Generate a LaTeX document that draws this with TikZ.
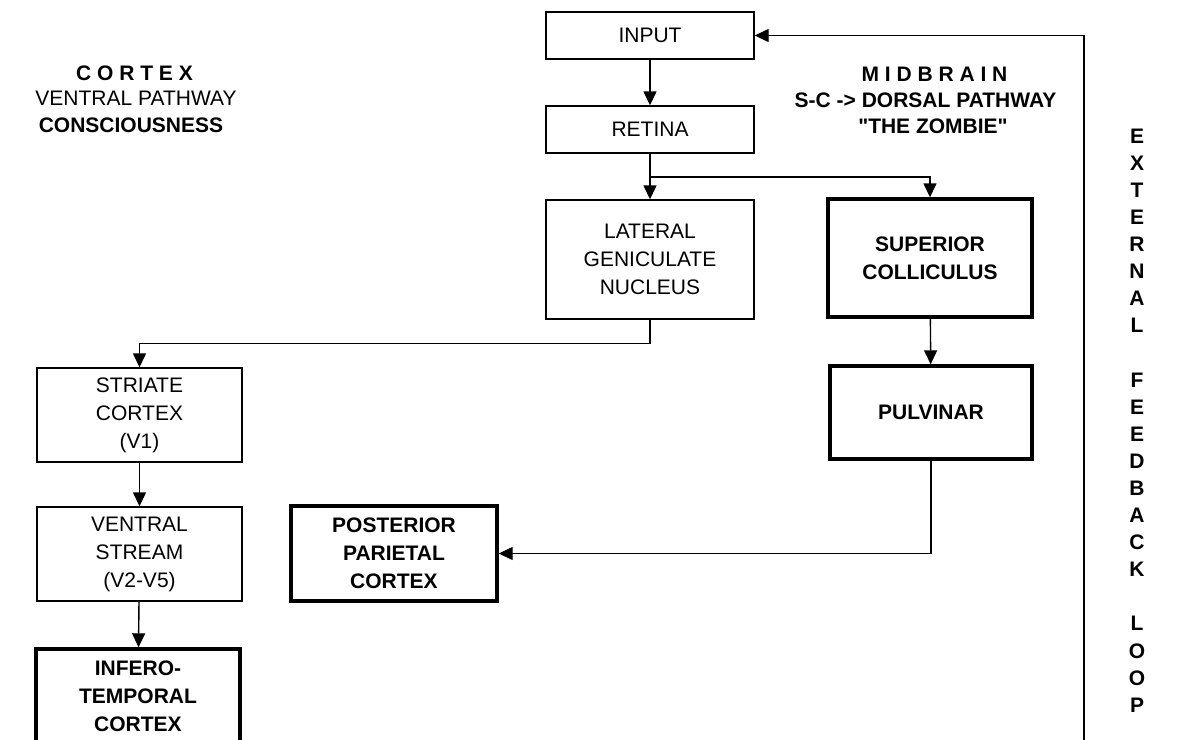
\documentclass[tikz,border=0pt]{standalone}
\usepackage{fontspec}
\setmainfont{Liberation Sans}[Ligatures=TeXOff]
\usetikzlibrary{arrows.meta}
\tikzset{
  thinbox/.style={draw, line width=0.7pt, font=\fontsize{10.5}{14}\selectfont,
                  align=center, inner sep=0pt},
  thickbox/.style={draw, line width=1.7pt, font=\fontsize{10.5}{14}\selectfont\bfseries,
                   align=center, inner sep=0pt},
  flow/.style={-{Triangle[width=6.5pt,length=7pt]}, line width=0.7pt},
  hdr/.style={font=\fontsize{10.5}{14}\selectfont#1, inner sep=0pt},
}
\begin{document}
\begin{tikzpicture}[x=0.5pt, y=-0.5pt]
  \useasboundingbox (0,0) rectangle (1196,740);
  % Headers
  \node[hdr=\bfseries] (cortexhdr) at (134.5,73.5) {C O R T E X};
  \node[hdr=] (ventralhdr) at (136,98) {VENTRAL PATHWAY};
  \node[hdr=\bfseries] (conschdr) at (131,125.5) {CONSCIOUSNESS};
  \node[hdr=\bfseries] (midhdr) at (934.5,74) {M I D B R A I N};
  \node[hdr=\bfseries] (dorsalhdr) at (925.5,100) {S-C -> DORSAL PATHWAY};
  \node[hdr=\bfseries] (zombiehdr) at (933,126) {"THE ZOMBIE"};
  % Feedback label
  \node[hdr=\bfseries, align=center, font=\fontsize{10.5}{13.55}\selectfont\bfseries]
    (loop) at (1137,420.5)
    {E\\X\\T\\E\\R\\N\\A\\L\\[13.55pt]F\\E\\E\\D\\B\\A\\C\\K\\[13.55pt]L\\O\\O\\P};

  % Boxes
  \node[thinbox, minimum width=104pt, minimum height=23.5pt] (input) at (650,35.5) {INPUT};
  \node[thinbox, minimum width=104pt, minimum height=23.5pt] (retina) at (650,129.5) {RETINA};
  \node[thinbox, minimum width=104pt, minimum height=59.5pt] (lgn) at (650,259.5)
    {LATERAL\\GENICULATE\\NUCLEUS};
  \node[thickbox, minimum width=102pt, minimum height=59pt] (sc) at (930,258)
    {SUPERIOR\\COLLICULUS};
  \node[thickbox, minimum width=101pt, minimum height=46.5pt] (pulvinar) at (931,412.5)
    {PULVINAR};
  \node[thickbox, minimum width=103pt, minimum height=47.5pt] (ppc) at (394,553.5)
    {POSTERIOR\\PARIETAL\\CORTEX};
  \node[thinbox, minimum width=102.5pt, minimum height=47pt] (striate) at (139.5,415)
    {STRIATE\\CORTEX\\(V1)};
  \node[thinbox, minimum width=102.5pt, minimum height=47pt] (ventral) at (139.5,554)
    {VENTRAL\\STREAM\\(V2-V5)};
  \node[thickbox, minimum width=102pt, minimum height=47pt] (it) at (138,696)
    {INFERO-\\TEMPORAL\\CORTEX};

  % Connectors
  \draw[flow] (input) -- (retina);
  \draw[flow] (retina) -- (lgn);
  \coordinate (split) at (650,177);
  \draw[flow] (split) -| (sc.north);
  \draw[flow] (sc) -- (pulvinar);
  \draw[flow] (pulvinar.south) |- (ppc.east);
  \draw[flow] (lgn.south) -- ++(0,23.5) -| (striate.north);
  \draw[flow] (striate) -- (ventral);
  \draw[flow] (ventral) -- (it);
  \coordinate (fbk) at (1084,750);
  \draw[flow] (fbk) |- (input.east);
\end{tikzpicture}
\end{document}
